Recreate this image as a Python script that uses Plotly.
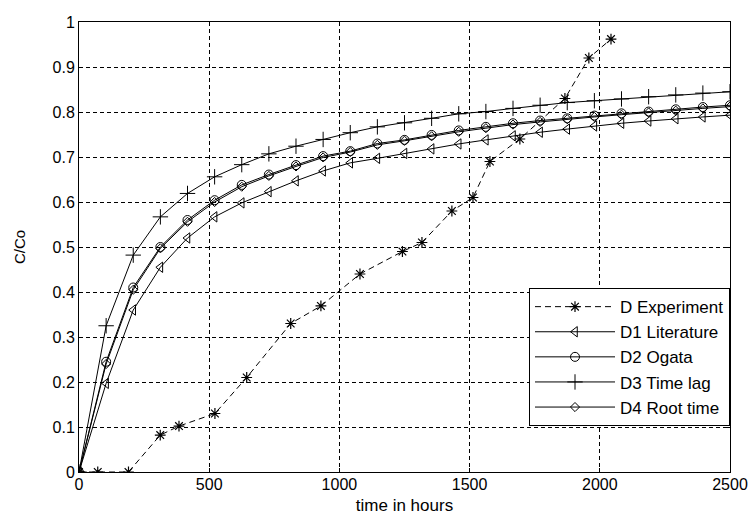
import plotly.graph_objects as go

# ---- data ----
t_exp = [0, 72, 190, 312, 384, 522, 644, 813, 929, 1079, 1242, 1317, 1432, 1513, 1578, 1693, 1866, 1958, 2043]
c_exp = [0, 0, 0, 0.082, 0.102, 0.13, 0.21, 0.33, 0.369, 0.44, 0.49, 0.51, 0.58, 0.61, 0.69, 0.74, 0.83, 0.92, 0.962]

t_model = [0, 104.2, 208.3, 312.5, 416.7, 520.8, 625, 729.2, 833.3, 937.5, 1041.7, 1145.8, 1250,
           1354.2, 1458.3, 1562.5, 1666.7, 1770.8, 1875, 1979.2, 2083.3, 2187.5, 2291.7, 2395.8, 2500]
c_d1 = [0, 0.197, 0.36, 0.455, 0.52, 0.567, 0.598, 0.623, 0.647, 0.669, 0.687, 0.697, 0.708,
        0.718, 0.729, 0.738, 0.747, 0.755, 0.762, 0.769, 0.775, 0.780, 0.785, 0.789, 0.793]
c_d2 = [0, 0.245, 0.41, 0.50, 0.56, 0.604, 0.638, 0.661, 0.682, 0.702, 0.713, 0.73, 0.738,
        0.749, 0.759, 0.767, 0.775, 0.781, 0.786, 0.792, 0.797, 0.801, 0.806, 0.811, 0.815]
c_d3 = [0, 0.325, 0.482, 0.567, 0.619, 0.656, 0.683, 0.707, 0.724, 0.739, 0.754, 0.767, 0.776,
        0.786, 0.796, 0.801, 0.808, 0.815, 0.821, 0.825, 0.829, 0.834, 0.838, 0.842, 0.845]
c_d4 = [0, 0.24, 0.405, 0.497, 0.556, 0.60, 0.634, 0.658, 0.679, 0.699, 0.711, 0.727, 0.736,
        0.746, 0.756, 0.764, 0.772, 0.778, 0.784, 0.789, 0.794, 0.799, 0.803, 0.808, 0.812]

names = ["D Experiment", "D1 Literature", "D2 Ogata", "D3 Time lag", "D4 Root time"]
x_ticks = [0, 500, 1000, 1500, 2000, 2500]
y_ticks = [0, 0.1, 0.2, 0.3, 0.4, 0.5, 0.6, 0.7, 0.8, 0.9, 1]

FONT = "Liberation Sans, Arial"

fig = go.Figure()
fig.add_trace(go.Scatter(x=t_exp, y=c_exp, name=names[0], mode="lines+markers",
                         line=dict(color="black", width=1, dash="6px,4px"),
                         marker=dict(symbol="asterisk-open", size=9, color="black",
                                     line=dict(color="black", width=1.2)),
                         legendgroup="g0"))
specs = [(c_d1, "triangle-left-open", 9, "g1"),
         (c_d2, "circle-open", 9, "g2"),
         (c_d3, "cross-thin-open", 11, "g3"),
         (c_d4, "diamond-open", 7, "g4")]
for i, (vals, sym, sz, g) in enumerate(specs):
    fig.add_trace(go.Scatter(x=t_model, y=vals, name=names[i + 1], mode="lines+markers",
                             line=dict(color="black", width=1),
                             marker=dict(symbol=sym, size=sz, color="black",
                                         line=dict(color="black", width=1)),
                             legendgroup=g))

axis_common = dict(showline=True, linecolor="black", linewidth=1, mirror="ticks",
                   ticks="inside", ticklen=4, tickcolor="black", automargin=False,
                   showgrid=True, gridcolor="black", gridwidth=1, griddash="4px,3px",
                   zeroline=False, tickfont=dict(family=FONT, size=16, color="black"))

fig.update_xaxes(range=[0, 2500], tickvals=x_ticks, ticktext=[str(v) for v in x_ticks],
                 ticklabelstandoff=-2,
                 title=dict(text="time in hours", standoff=10,
                            font=dict(family=FONT, size=17, color="black")),
                 **axis_common)
fig.update_yaxes(range=[0, 1], tickvals=y_ticks, ticktext=[f"{v:g}" for v in y_ticks],
                 title=dict(text="C/Co", standoff=23,
                            font=dict(family=FONT, size=15, color="black")),
                 **axis_common)

fig.update_layout(
    width=753, height=515,
    margin=dict(l=79, r=23, t=22, b=43),
    paper_bgcolor="white", plot_bgcolor="white",
    showlegend=True,
    legend=dict(x=1, y=0.102, xanchor="right", yanchor="bottom",
                bgcolor="white", bordercolor="black", borderwidth=1,
                font=dict(family=FONT, size=17, color="black"),
                traceorder="grouped", tracegroupgap=0, itemwidth=80),
)

fig.write_html("out.html")
